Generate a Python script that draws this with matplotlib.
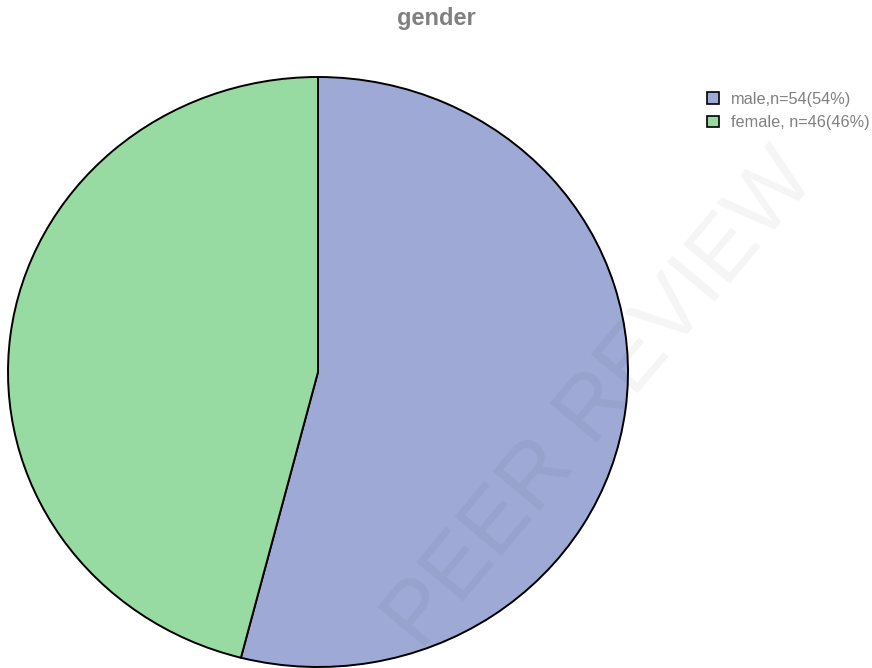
import matplotlib.pyplot as plt
from matplotlib.patches import Patch

plt.rcParams['font.family'] = ['Liberation Sans', 'DejaVu Sans']

labels = ['male,n=54(54%)', 'female, n=46(46%)']
counts = [54, 46]
colors = ['#9eaad5', '#98dba2']

fig = plt.figure(figsize=(8.72, 6.68), dpi=100)

# pie area, slightly wider than tall
ax = fig.add_axes([8 / 872, 1 / 668, 620 / 872, 590 / 668])
ax.pie(counts, colors=colors, startangle=90, counterclock=False,
       wedgeprops=dict(edgecolor='black', linewidth=1.4))
ax.set_aspect('auto')
ax.set_xlim(-1, 1)
ax.set_ylim(-1, 1)
for p in ax.patches:
    p.set_clip_on(False)

fig.text(0.5, 1 - 19 / 668, 'gender', ha='center', va='center',
         fontsize=17, fontweight='bold', color='#808080')

handles = [Patch(facecolor=c, edgecolor='black', linewidth=1.2) for c in colors]
fig.legend(handles, labels, loc='upper left', bbox_to_anchor=(707 / 872, 1 - 92 / 668),
           frameon=False, fontsize=11.7, labelcolor='#808080',
           handlelength=0.75, handleheight=0.75, handletextpad=0.7,
           labelspacing=0.5, borderpad=0, borderaxespad=0)

# faint journal watermark
fig.text(0.69, 0.40, 'PEER REVIEW', rotation=50, ha='center', va='center',
         fontsize=64, color='#000000', alpha=0.045)

fig.savefig('out.png', dpi=100)
